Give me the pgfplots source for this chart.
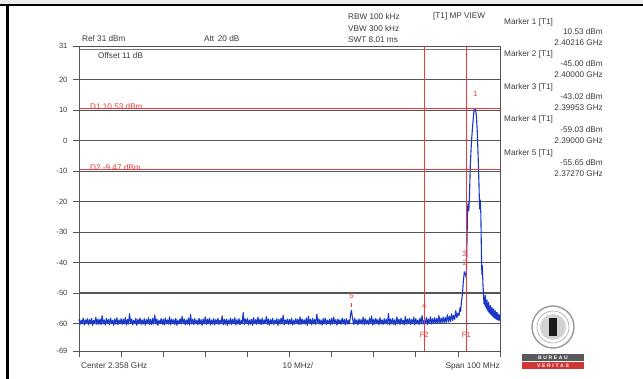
\documentclass[border=0pt]{standalone}
\usepackage{pgfplots}
\pgfplotsset{compat=1.18}
\usepackage{fontspec}
\setmainfont{Liberation Sans}
\definecolor{trace}{RGB}{25,55,200}
\definecolor{mred}{RGB}{230,60,60}
\definecolor{gridc}{RGB}{85,85,85}
\definecolor{txt}{RGB}{60,60,60}
\definecolor{strip}{RGB}{236,236,236}
\newcommand{\fs}{\fontsize{8.2}{9}\selectfont}
\newcommand{\ft}{\fontsize{7.6}{8}\selectfont}
\begin{document}
\begin{tikzpicture}
\begin{scope}[x=1pt,y=-1pt]
\path[use as bounding box] (0,0) rectangle (643,379);
\fill[white] (0,0) rectangle (643,379);
\fill[strip] (0,0) rectangle (643,4);
\fill[black] (0,4) rectangle (643,6.5);
\fill[black] (6,4) rectangle (8.5,379);
\end{scope}
\begin{axis}[at={(79pt,-351pt)}, anchor=south west, scale only axis,
  width=421pt, height=305pt, xmin=0, xmax=100, ymin=-69, ymax=31,
  clip=false,
  axis line style={draw=gridc, line width=0.9pt},
  xtick={0,10,...,100}, xticklabels={},
  ytick={20,10,...,-60}, extra y ticks={31,-69}, extra y tick style={grid=none},
  minor ytick={30}, yminorgrids, minor tick length=0pt,
  minor grid style={draw=gridc!80, line width=0.8pt},
  ymajorgrids, grid style={draw=gridc, line width=1.1pt},
  tick style={draw=gridc, line width=0.7pt}, major tick length=6pt,
  tick align=outside, tick pos=left,
  yticklabel style={font=\ft, text=txt, xshift=-2pt},
  /pgf/number format/assume math mode=true,
]
\addplot[trace, line width=1.1pt, line join=round] table[row sep=\\] {
x y\\
0 -58.6\\ 0.25 -60.3\\ 0.5 -58.9\\ 0.75 -60.0\\ 1 -58.2\\ 1.25 -60.5\\ 1.5 -58.8\\ 1.75 -59.9\\ 2 -58.4\\ 2.25 -60.4\\
2.5 -58.7\\ 2.75 -60.1\\ 3 -58.3\\ 3.25 -60.6\\ 3.5 -58.9\\ 3.75 -60.0\\ 4 -57.9\\ 4.25 -60.3\\ 4.5 -58.6\\ 4.75 -60.2\\
5 -58.5\\ 5.25 -60.4\\ 5.5 -57.4\\ 5.75 -60.1\\ 6 -58.8\\ 6.25 -60.5\\ 6.5 -58.3\\ 6.75 -59.9\\ 7 -58.7\\ 7.25 -60.3\\
7.5 -58.2\\ 7.75 -60.0\\ 8 -58.9\\ 8.25 -60.6\\ 8.5 -58.5\\ 8.75 -60.2\\ 9 -58.1\\ 9.25 -60.4\\ 9.5 -58.8\\ 9.75 -60.0\\
10 -58.4\\ 10.25 -60.3\\ 10.5 -58.6\\ 10.75 -60.1\\ 11 -58.0\\ 11.25 -60.5\\ 11.5 -58.7\\ 11.75 -60.2\\ 12 -56.8\\ 12.25 -60.0\\
12.5 -58.5\\ 12.75 -60.4\\ 13 -58.9\\ 13.25 -60.1\\ 13.5 -58.3\\ 13.75 -60.6\\ 14 -58.6\\ 14.25 -60.0\\ 14.5 -58.2\\ 14.75 -60.3\\
15 -58.8\\ 15.25 -60.2\\ 15.5 -58.4\\ 15.75 -60.5\\ 16 -58.7\\ 16.25 -60.0\\ 16.5 -58.1\\ 16.75 -60.3\\ 17 -58.6\\ 17.25 -60.4\\
17.5 -58.3\\ 17.75 -60.1\\ 18 -57.2\\ 18.25 -60.2\\ 18.5 -58.5\\ 18.75 -60.6\\ 19 -58.9\\ 19.25 -60.0\\ 19.5 -58.4\\ 19.75 -60.3\\
20 -58.6\\ 20.25 -60.5\\ 20.5 -58.2\\ 20.75 -60.1\\ 21 -58.8\\ 21.25 -60.2\\ 21.5 -57.8\\ 21.75 -60.4\\ 22 -58.5\\ 22.25 -60.0\\
22.5 -58.7\\ 22.75 -60.3\\ 23 -58.3\\ 23.25 -60.6\\ 23.5 -58.9\\ 23.75 -60.1\\ 24 -58.4\\ 24.25 -60.2\\ 24.5 -57.6\\ 24.75 -60.0\\
25 -58.5\\ 25.25 -60.4\\ 25.5 -58.8\\ 25.75 -60.2\\ 26 -58.2\\ 26.25 -60.5\\ 26.5 -57.0\\ 26.75 -60.1\\ 27 -58.6\\ 27.25 -60.3\\
27.5 -58.4\\ 27.75 -60.0\\ 28 -58.9\\ 28.25 -60.4\\ 28.5 -58.3\\ 28.75 -60.2\\ 29 -58.7\\ 29.25 -60.6\\ 29.5 -58.5\\ 29.75 -60.1\\
30 -57.8\\ 30.25 -60.3\\ 30.5 -58.6\\ 30.75 -60.0\\ 31 -58.2\\ 31.25 -60.5\\ 31.5 -58.8\\ 31.75 -60.2\\ 32 -58.4\\ 32.25 -60.4\\
32.5 -58.7\\ 32.75 -60.1\\ 33 -58.3\\ 33.25 -60.3\\ 33.5 -58.9\\ 33.75 -60.0\\ 34 -57.5\\ 34.25 -60.4\\ 34.5 -58.6\\ 34.75 -60.2\\
35 -58.5\\ 35.25 -60.6\\ 35.5 -58.8\\ 35.75 -60.1\\ 36 -58.2\\ 36.25 -60.3\\ 36.5 -58.6\\ 36.75 -60.0\\ 37 -58.1\\ 37.25 -60.5\\
37.5 -58.7\\ 37.75 -60.2\\ 38 -58.4\\ 38.25 -60.4\\ 38.5 -58.9\\ 38.75 -60.1\\ 39 -56.4\\ 39.25 -60.3\\ 39.5 -58.5\\ 39.75 -60.0\\
40 -58.3\\ 40.25 -60.4\\ 40.5 -58.8\\ 40.75 -60.2\\ 41 -58.5\\ 41.25 -60.6\\ 41.5 -58.1\\ 41.75 -60.0\\ 42 -58.7\\ 42.25 -60.3\\
42.5 -57.9\\ 42.75 -60.1\\ 43 -58.6\\ 43.25 -60.4\\ 43.5 -58.2\\ 43.75 -60.2\\ 44 -58.8\\ 44.25 -60.0\\ 44.5 -57.7\\ 44.75 -60.3\\
45 -58.5\\ 45.25 -60.5\\ 45.5 -58.7\\ 45.75 -60.1\\ 46 -58.3\\ 46.25 -60.3\\ 46.5 -58.9\\ 46.75 -60.0\\ 47 -58.4\\ 47.25 -60.6\\
47.5 -58.6\\ 47.75 -60.2\\ 48 -58.2\\ 48.25 -60.1\\ 48.5 -57.3\\ 48.75 -60.4\\ 49 -58.8\\ 49.25 -60.0\\ 49.5 -58.5\\ 49.75 -60.3\\
50 -58.7\\ 50.25 -60.1\\ 50.5 -58.3\\ 50.75 -60.5\\ 51 -58.9\\ 51.25 -60.2\\ 51.5 -58.4\\ 51.75 -60.0\\ 52 -58.6\\ 52.25 -60.4\\
52.5 -57.8\\ 52.75 -60.3\\ 53 -58.5\\ 53.25 -60.1\\ 53.5 -58.8\\ 53.75 -60.2\\ 54 -58.2\\ 54.25 -60.6\\ 54.5 -57.6\\ 54.75 -60.0\\
55 -58.6\\ 55.25 -60.4\\ 55.5 -58.3\\ 55.75 -60.1\\ 56 -58.7\\ 56.25 -60.3\\ 56.5 -56.9\\ 56.75 -60.0\\ 57 -58.5\\ 57.25 -60.2\\
57.5 -58.8\\ 57.75 -60.5\\ 58 -58.4\\ 58.25 -60.1\\ 58.5 -58.2\\ 58.75 -60.3\\ 59 -58.9\\ 59.25 -60.0\\ 59.5 -58.6\\ 59.75 -60.4\\
60 -58.3\\ 60.25 -60.2\\ 60.5 -57.9\\ 60.75 -60.0\\ 61 -58.7\\ 61.25 -60.5\\ 61.5 -58.5\\ 61.75 -60.1\\ 62 -58.8\\ 62.25 -60.3\\
62.5 -58.2\\ 62.75 -60.0\\ 63 -58.6\\ 63.25 -60.4\\ 63.5 -58.4\\ 63.75 -60.2\\ 64 -58.9\\ 64.25 -60.1\\ 64.5 -57.0\\ 64.7 -55.65\\
65 -58.6\\ 65.25 -60.3\\ 65.5 -58.3\\ 65.75 -60.1\\ 66 -58.8\\ 66.25 -60.4\\ 66.5 -58.5\\ 66.75 -60.0\\ 67 -58.7\\ 67.25 -60.2\\
67.5 -57.9\\ 67.75 -60.4\\ 68 -58.4\\ 68.25 -60.1\\ 68.5 -58.9\\ 68.75 -60.3\\ 69 -58.2\\ 69.25 -60.0\\ 69.5 -57.5\\ 69.75 -60.5\\
70 -58.6\\ 70.25 -60.2\\ 70.5 -58.3\\ 70.75 -60.0\\ 71 -58.7\\ 71.25 -60.4\\ 71.5 -58.1\\ 71.75 -60.1\\ 72 -58.8\\ 72.25 -60.3\\
72.5 -58.4\\ 72.75 -60.0\\ 73 -58.6\\ 73.25 -60.2\\ 73.5 -56.7\\ 73.75 -60.4\\ 74 -58.5\\ 74.25 -60.1\\ 74.5 -58.3\\ 74.75 -60.3\\
75 -58.8\\ 75.25 -60.5\\ 75.5 -57.8\\ 75.75 -60.0\\ 76 -58.6\\ 76.25 -60.3\\ 76.5 -58.2\\ 76.75 -60.1\\ 77 -58.9\\ 77.25 -60.4\\
77.5 -57.7\\ 77.75 -60.2\\ 78 -58.5\\ 78.25 -60.0\\ 78.5 -58.3\\ 78.75 -60.3\\ 79 -58.7\\ 79.25 -60.1\\ 79.5 -57.9\\ 79.75 -60.4\\
80 -58.4\\ 80.25 -60.1\\ 80.5 -58.8\\ 80.75 -60.3\\ 81 -58.2\\ 81.25 -60.0\\ 81.5 -57.4\\ 81.75 -60.2\\ 82 -59.03\\ 82.25 -60.1\\
82.5 -58.0\\ 82.75 -60.3\\ 83 -58.5\\ 83.25 -60.0\\ 83.5 -57.8\\ 83.75 -60.2\\ 84 -58.4\\ 84.25 -59.9\\ 84.5 -58.1\\ 84.75 -60.1\\
85 -58.3\\ 85.25 -59.9\\ 85.5 -57.4\\ 85.75 -60.0\\ 86 -58.2\\ 86.25 -59.7\\ 86.5 -57.9\\ 86.75 -59.8\\ 87 -58.0\\ 87.25 -59.6\\
87.5 -57.1\\ 87.75 -59.5\\ 88 -57.6\\ 88.25 -59.3\\ 88.5 -56.8\\ 88.75 -59.0\\ 89 -57.3\\ 89.25 -58.6\\ 89.5 -55.8\\ 89.75 -58.1\\
90 -56.6\\ 90.25 -57.4\\ 90.5 -54.8\\ 90.65 -56.0\\ 90.8 -53.5\\ 91.1 -50.0\\ 91.3 -46.0\\ 91.53 -43.02\\ 91.8 -44.0\\ 92.0 -45.0\\
92.2 -30\\ 92.3 -22\\ 92.45 -20.5\\ 92.6 -23\\ 92.75 -18\\ 92.95 -8\\ 93.2 -1\\ 93.5 5\\ 93.8 9.5\\ 94.16 10.53\\
94.4 8\\ 94.6 3\\ 94.8 -5\\ 95.0 -14\\ 95.1 -20\\ 95.2 -22.5\\ 95.3 -19.5\\ 95.45 -24\\ 95.6 -38\\ 95.7 -44\\
95.8 -41\\ 95.95 -47\\ 96.1 -51\\ 96.2 -53.5\\ 96.3 -51.5\\ 96.4 -54.0\\ 96.5 -50.8\\ 96.6 -54.5\\ 96.7 -52.6\\ 96.8 -55.0\\
96.9 -52.2\\ 97.0 -55.6\\ 97.1 -53.5\\ 97.2 -56.0\\ 97.3 -53.0\\ 97.4 -56.3\\ 97.5 -54.4\\ 97.6 -56.6\\ 97.7 -54.1\\ 97.8 -57.0\\
97.9 -55.0\\ 98.0 -57.2\\ 98.1 -54.7\\ 98.2 -57.5\\ 98.3 -55.5\\ 98.4 -57.8\\ 98.5 -55.2\\ 98.6 -58.0\\ 98.7 -56.0\\ 98.8 -58.3\\
98.9 -55.8\\ 99.0 -58.4\\ 99.1 -56.4\\ 99.2 -58.6\\ 99.3 -56.3\\ 99.4 -58.8\\ 99.5 -57.0\\ 99.6 -58.9\\ 99.7 -56.9\\ 99.8 -59.0\\
99.9 -57.3\\ 100 -58.0\\
};
\addplot[mred, line width=0.9pt] coordinates {(0,10.53) (100,10.53)};
\addplot[mred, line width=0.9pt] coordinates {(0,-9.47) (100,-9.47)};
\addplot[mred, line width=0.8pt] coordinates {(82,31) (82,-69)};
\addplot[mred, line width=0.8pt] coordinates {(92,31) (92,-69)};
\addplot[mred, only marks, mark=|, mark size=2pt, line width=0.6pt] coordinates {(64.7,-53.8) (82,-57.2)};
\node[mred, font=\fs, anchor=base west, inner sep=0pt] at (axis cs:2.6,10.2) {D1 10.53 dBm};
\node[mred, font=\fs, anchor=base west, inner sep=0pt] at (axis cs:2.6,-9.8) {D2 -9.47 dBm};
\node[mred, font=\ft, inner sep=0pt] at (axis cs:94.16,15.3) {1};
\node[mred, font=\ft, inner sep=0pt] at (axis cs:91.5,-37.2) {3};
\node[mred, font=\ft, inner sep=0pt] at (axis cs:91.7,-40.0) {2};
\node[mred, font=\ft, inner sep=0pt] at (axis cs:82,-54.3) {4};
\node[mred, font=\ft, inner sep=0pt] at (axis cs:64.7,-50.9) {5};
\node[mred, font=\ft, inner sep=0pt] at (axis cs:82,-63.6) {F2};
\node[mred, font=\ft, inner sep=0pt] at (axis cs:92,-63.6) {F1};
\end{axis}
\begin{scope}[x=1pt,y=-1pt, every node/.style={font=\fs, text=txt, inner sep=0pt}]
\node[anchor=west] at (82,39) {Ref 31 dBm};
\node[anchor=west] at (204,39) {Att\, 20 dB};
\node[anchor=west] at (98,56) {Offset 11 dB};
\node[anchor=west] at (348,16.5) {RBW 100 kHz};
\node[anchor=west] at (348,28.5) {VBW 300 kHz};
\node[anchor=west] at (348,40) {SWT 8.01 ms};
\node[anchor=west] at (433,16.5) {[T1] MP VIEW};
\node[anchor=west] at (504,22) {Marker 1 [T1]};
\node[anchor=east] at (603,32) {10.53 dBm};
\node[anchor=east] at (603,43) {2.40216 GHz};
\node[anchor=west] at (504,54) {Marker 2 [T1]};
\node[anchor=east] at (603,64) {-45.00 dBm};
\node[anchor=east] at (603,75) {2.40000 GHz};
\node[anchor=west] at (504,87) {Marker 3 [T1]};
\node[anchor=east] at (603,97) {-43.02 dBm};
\node[anchor=east] at (603,108) {2.39953 GHz};
\node[anchor=west] at (504,119) {Marker 4 [T1]};
\node[anchor=east] at (603,130) {-59.03 dBm};
\node[anchor=east] at (603,141) {2.39000 GHz};
\node[anchor=west] at (504,153) {Marker 5 [T1]};
\node[anchor=east] at (603,163) {-55.65 dBm};
\node[anchor=east] at (603,174) {2.37270 GHz};
\node[anchor=west] at (81,366) {Center 2.358 GHz};
\node at (298,366) {10 MHz/};
\node[anchor=east] at (500,366) {Span 100 MHz};
% logo
\draw[gray!80, line width=1.4pt] (553,327) circle (21pt);
\draw[gray!70, line width=0.6pt] (553,327) circle (16pt);
\fill[gray!35] (553,327) circle (13pt);
\fill[gray!20!black] (549,318) rectangle (557,336);
\fill[gray!70!black] (522,354) rectangle (584,361);
\node[font=\fontsize{5}{5}\selectfont\bfseries, text=white] at (553,357.5) {B\,\,U\,\,R\,\,E\,\,A\,\,U};
\fill[mred!90!black] (522,362) rectangle (584,369);
\node[font=\fontsize{5}{5}\selectfont\bfseries, text=white] at (553,365.5) {V\,\,E\,\,R\,\,I\,\,T\,\,A\,\,S};
\end{scope}
\end{tikzpicture}
\end{document}
